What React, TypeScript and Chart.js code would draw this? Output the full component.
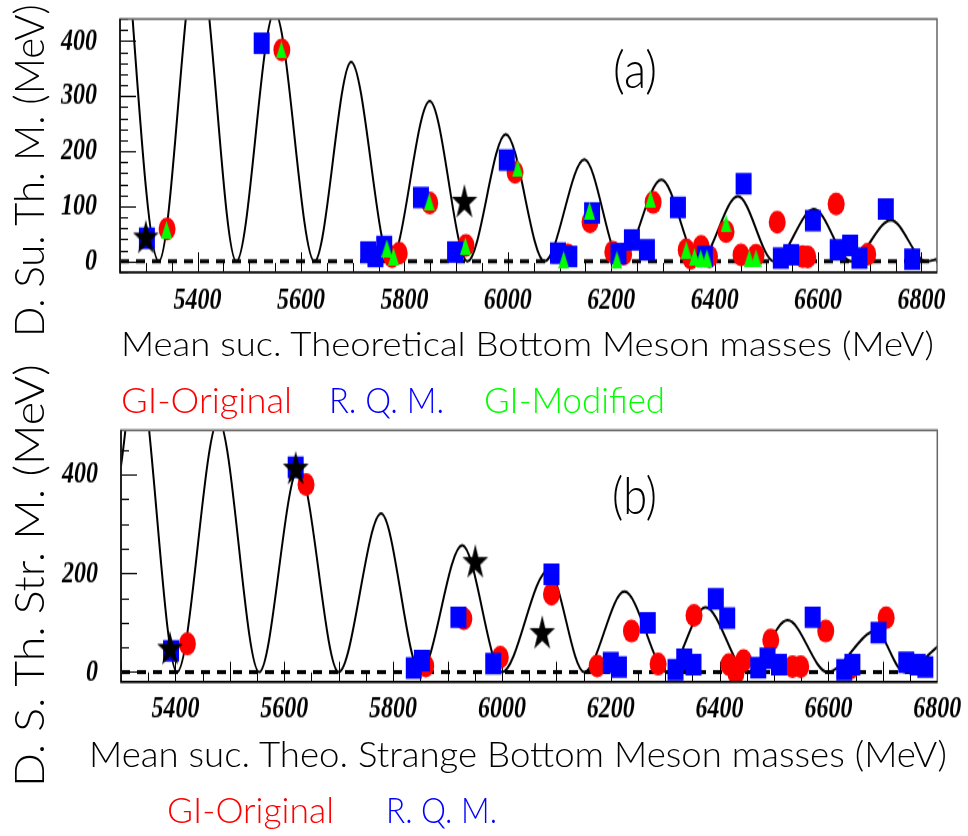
import React, { useEffect, useRef } from 'react';
import { Chart, registerables } from 'chart.js';

Chart.register(...registerables);

// ---------------- data ----------------
const X_TICKS = [5400, 5600, 5800, 6000, 6200, 6400, 6600, 6800];
const Y_TICKS_A = [0, 100, 200, 300, 400];
const Y_TICKS_B = [0, 200, 400];

// Panel (a): bottom mesons
const CURVE_A_X = [5250, 5325, 5400, 5475, 5549, 5626, 5697, 5773, 5849, 5922, 5996, 6071, 6148, 6219, 6297, 6370, 6445, 6515, 6592, 6664, 6741, 6809, 6830];
const CURVE_A_Y = [730, 0, 566, 0, 453, 0, 362, 0, 291, 0, 231, 0, 185, 0, 148, 0, 118, 0, 95, 0, 75, 0, 4];

const RED_A_X = [5341, 5563, 5776, 5790, 5849, 5919, 6014, 6116, 6159, 6203, 6224, 6281, 6345, 6354, 6374, 6390, 6422, 6451, 6480, 6521, 6570, 6580, 6635, 6696];
const RED_A_Y = [59, 384, 9, 15, 106, 29, 162, 12, 72, 17, 13, 107, 21, 6, 27, 9, 54, 12, 11, 71, 9, 8, 104, 13];

const BLUE_A_X = [5302, 5524, 5730, 5744, 5761, 5832, 5898, 5998, 6097, 6119, 6163, 6214, 6240, 6269, 6329, 6381, 6456, 6528, 6548, 6590, 6638, 6662, 6680, 6731, 6782];
const BLUE_A_Y = [42, 396, 17, 9, 27, 116, 17, 184, 15, 9, 88, 14, 39, 21, 98, 9, 141, 6, 12, 74, 21, 29, 6, 95, 4];

const GREEN_A_X = [5340, 5562, 5766, 5779, 5848, 5918, 6019, 6108, 6158, 6211, 6276, 6345, 6361, 6373, 6385, 6422, 6467, 6480];
const GREEN_A_Y = [58, 384, 24, 9, 108, 28, 169, 3, 92, 3, 113, 21, 8, 6, 6, 69, 6, 6];

const STAR_A_X = [5300, 5916];
const STAR_A_Y = [45, 110];

// Panel (b): strange bottom mesons
const CURVE_B_X = [5300, 5329, 5403, 5479, 5554, 5626, 5700, 5778, 5850, 5927, 6000, 6085, 6151, 6225, 6304, 6374, 6451, 6525, 6598, 6687, 6739, 6800];
const CURVE_B_Y = [418, 633, 0, 510, 0, 412, 0, 321, 0, 257, 0, 206, 0, 163, 0, 131, 0, 105, 0, 83, 0, 51];

const RED_B_X = [5422, 5640, 5860, 5930, 5997, 6091, 6175, 6238, 6287, 6353, 6417, 6430, 6444, 6494, 6534, 6549, 6595, 6641, 6706];
const RED_B_Y = [57, 380, 12, 108, 30, 158, 12, 83, 16, 115, 15, -2, 23, 65, 11, 11, 83, 8, 110];

const BLUE_B_X = [5392, 5621, 5838, 5853, 5920, 5984, 6091, 6200, 6215, 6268, 6319, 6335, 6352, 6393, 6414, 6471, 6488, 6509, 6571, 6629, 6644, 6692, 6743, 6764, 6778];
const BLUE_B_Y = [43, 415, 8, 23, 111, 17, 198, 19, 10, 100, 5, 26, 15, 148, 109, 9, 28, 15, 111, 5, 15, 80, 20, 15, 10];

const STAR_B_X = [5390, 5621, 5951, 6074];
const STAR_B_Y = [49, 414, 225, 81];

// ---------------- styling ----------------
const S = 1.35; // vertical stretch of the original figure
const RED = '#ff0000';
const BLUE = '#0000ff';
const GREEN = '#00ff00';

type Pt = { x: number; y: number };
const zip = (xs: number[], ys: number[]): Pt[] => xs.map((x, i) => ({ x, y: ys[i] }));

interface PanelSpec {
  xMin: number; xMax: number; yMin: number; yMax: number;
  yTicks: number[];
  curve: Pt[]; red: Pt[]; blue: Pt[]; green: Pt[] | null; stars: Pt[];
  height: number; padTop: number; padRight: number;
  yAxisWidth: number; xAxisHeight: number; yLabelPad: number; xLabelPad: number;
  xMajor: number; xMinor: number; yMajor: number; yMinor: number;
}

const PANEL_A: PanelSpec = {
  xMin: 5250, xMax: 6830, yMin: -20, yMax: 440, yTicks: Y_TICKS_A,
  curve: zip(CURVE_A_X, CURVE_A_Y), red: zip(RED_A_X, RED_A_Y), blue: zip(BLUE_A_X, BLUE_A_Y),
  green: zip(GREEN_A_X, GREEN_A_Y), stars: zip(STAR_A_X, STAR_A_Y),
  height: 307, padTop: 19 / S, padRight: 31,
  yAxisWidth: 120, xAxisHeight: 307 - 272.7 / S, yLabelPad: 23, xLabelPad: 6,
  xMajor: 200, xMinor: 50, yMajor: 100, yMinor: 20,
};

const PANEL_B: PanelSpec = {
  xMin: 5300, xMax: 6800, yMin: -20, yMax: 490, yTicks: Y_TICKS_B,
  curve: zip(CURVE_B_X, CURVE_B_Y), red: zip(RED_B_X, RED_B_Y), blue: zip(BLUE_B_X, BLUE_B_Y),
  green: null, stars: zip(STAR_B_X, STAR_B_Y),
  height: 312, padTop: (428 - 415) / S, padRight: 30.7,
  yAxisWidth: 121, xAxisHeight: 312 - (682 - 415) / S, yLabelPad: 23, xLabelPad: 6,
  xMajor: 100, xMinor: 50, yMajor: 200, yMinor: 50,
};

function makeTriangle(): HTMLCanvasElement {
  const c = document.createElement('canvas');
  c.width = 11; c.height = 13;
  const g = c.getContext('2d')!;
  g.fillStyle = GREEN;
  g.beginPath(); g.moveTo(5.5, 0); g.lineTo(11, 13); g.lineTo(0, 13); g.closePath(); g.fill();
  return c;
}

function makeStar(): HTMLCanvasElement {
  const c = document.createElement('canvas');
  c.width = 28; c.height = 26;
  const g = c.getContext('2d')!;
  g.fillStyle = '#000';
  const R = 13.6, r = R * 0.382, cx = 14, cy = 0.6 + R;
  g.beginPath();
  for (let i = 0; i < 10; i++) {
    const a = -Math.PI / 2 + (i * Math.PI) / 5;
    const rr = i % 2 ? r : R;
    g.lineTo(cx + rr * Math.cos(a), cy + rr * Math.sin(a));
  }
  g.closePath(); g.fill();
  return c;
}

function axisPlugin(p: PanelSpec) {
  return {
    id: 'rootAxes',
    beforeDatasetsDraw(chart: any) {
      const { ctx, chartArea: a } = chart;
      const xs = chart.scales.x, ys = chart.scales.y;
      ctx.save();
      ctx.strokeStyle = '#000';
      ctx.lineWidth = 1;
      ctx.beginPath();
      for (let i = Math.ceil(p.xMin / p.xMinor); i <= Math.floor(p.xMax / p.xMinor); i++) {
        const v = i * p.xMinor;
        const px = Math.round(xs.getPixelForValue(v)) + 0.5;
        const len = v % p.xMajor === 0 ? 15 : 7;
        ctx.moveTo(px, a.bottom); ctx.lineTo(px, a.bottom - len);
      }
      for (let i = Math.ceil(p.yMin / p.yMinor); i <= Math.floor(p.yMax / p.yMinor); i++) {
        const v = i * p.yMinor;
        const py = Math.round(ys.getPixelForValue(v)) + 0.5;
        const len = v % p.yMajor === 0 ? 16 : 8;
        ctx.moveTo(a.left, py); ctx.lineTo(a.left + len, py);
      }
      ctx.stroke();
      ctx.restore();
    },
    afterDatasetsDraw(chart: any) {
      const { ctx, chartArea: a } = chart;
      ctx.save();
      ctx.strokeStyle = '#666';
      ctx.lineWidth = 1.5;
      ctx.strokeRect(a.left, a.top, a.right - a.left, a.bottom - a.top);
      ctx.strokeStyle = '#000';
      ctx.beginPath();
      ctx.moveTo(a.left, a.top); ctx.lineTo(a.left, a.bottom); ctx.lineTo(a.right, a.bottom);
      ctx.stroke();
      ctx.restore();
    },
  };
}

const TICK_FONT = { family: '"Liberation Serif", "Times New Roman", serif', size: 24, style: 'italic' as const, weight: 'bold' as const };

function noPad(s: any) {
  s.paddingTop = 0; s.paddingBottom = 0; s.paddingLeft = 0; s.paddingRight = 0;
}

function buildConfig(p: PanelSpec): any {
  const tri = makeTriangle();
  const star = makeStar();
  const datasets: any[] = [
    { label: 'Experiment', data: p.stars, showLine: false, pointStyle: star, pointRadius: 8, pointBorderWidth: 0, order: 0 },
  ];
  if (p.green) {
    datasets.push({ label: 'GI-Modified', data: p.green, showLine: false, pointStyle: tri, pointRadius: 6, pointBorderWidth: 0, order: 1 });
  }
  datasets.push(
    { label: 'R. Q. M.', data: p.blue, showLine: false, pointStyle: 'rect', pointRadius: 11.3, pointBackgroundColor: BLUE, pointBorderWidth: 0, order: 2 },
    { label: 'GI-Original', data: p.red, showLine: false, pointStyle: 'circle', pointRadius: 8.5, pointBackgroundColor: RED, pointBorderWidth: 0, order: 3 },
    { label: 'zero', data: [{ x: p.xMin, y: 0 }, { x: p.xMax, y: 0 }], borderColor: '#000', borderWidth: 3, borderDash: [9, 7], pointRadius: 0, order: 4 },
    { label: 'fit', data: p.curve, borderColor: '#000', borderWidth: 2, pointRadius: 0, cubicInterpolationMode: 'monotone', order: 5 },
  );
  return {
    type: 'line',
    data: { datasets },
    options: {
      animation: false,
      responsive: false,
      devicePixelRatio: 1,
      events: [],
      layout: { padding: { top: p.padTop, right: p.padRight, left: 0, bottom: 0 } },
      plugins: { legend: { display: false }, tooltip: { enabled: false }, title: { display: false } },
      scales: {
        x: {
          type: 'linear', position: 'bottom', min: p.xMin, max: p.xMax,
          grid: { display: false, drawTicks: false }, border: { display: false },
          afterBuildTicks: (s: any) => { s.ticks = X_TICKS.map((v) => ({ value: v })); },
          afterFit: (s: any) => { s.height = p.xAxisHeight; noPad(s); },
          ticks: { autoSkip: false, maxRotation: 0, minRotation: 0, padding: p.xLabelPad, color: '#000', font: TICK_FONT, callback: (v: any) => String(v) },
        },
        y: {
          type: 'linear', position: 'left', min: p.yMin, max: p.yMax,
          grid: { display: false, drawTicks: false }, border: { display: false },
          afterBuildTicks: (s: any) => { s.ticks = p.yTicks.map((v) => ({ value: v })); },
          afterFit: (s: any) => { s.width = p.yAxisWidth; noPad(s); },
          ticks: { autoSkip: false, padding: p.yLabelPad, color: '#000', font: TICK_FONT, callback: (v: any) => String(v) },
        },
      },
    },
    plugins: [axisPlugin(p)],
  };
}

function PanelCanvas({ spec, top }: { spec: PanelSpec; top: number }) {
  const ref = useRef<HTMLCanvasElement>(null);
  useEffect(() => {
    const chart = new Chart(ref.current as HTMLCanvasElement, buildConfig(spec));
    return () => chart.destroy();
  }, [spec]);
  return (
    <canvas
      ref={ref}
      width={968}
      height={spec.height}
      style={{ position: 'absolute', left: 0, top, width: 968, height: spec.height * S }}
    />
  );
}

// ---------------- text ----------------
const LABEL_FAMILY = 'Lato, "DejaVu Sans", sans-serif';
const ASC = 0.887; // baseline offset for line-height 1 (Lato)
const CAPH = 0.717;
let measureCtx: CanvasRenderingContext2D | null = null;
function textWidth(text: string, font: string): number {
  if (!measureCtx) measureCtx = document.createElement('canvas').getContext('2d');
  measureCtx!.font = font;
  return measureCtx!.measureText(text).width;
}

function Label(props: { text: string; x: number; y: number; w: number; cap: number; color?: string; vertical?: boolean; weight?: number }) {
  const { text, x, y, w, cap, color = '#000', vertical = false, weight = 300 } = props;
  const fs = cap / CAPH;
  const nat = textWidth(text, `${weight} ${fs}px ${LABEL_FAMILY}`);
  const sx = w / nat;
  const common: React.CSSProperties = {
    position: 'absolute', fontFamily: LABEL_FAMILY, fontSize: fs, fontWeight: weight,
    lineHeight: `${fs}px`, color, whiteSpace: 'nowrap', transformOrigin: '0 0',
  };
  if (!vertical) {
    return <div style={{ ...common, left: x, top: y - ASC * fs, transform: `scaleX(${sx})` }}>{text}</div>;
  }
  return <div style={{ ...common, left: x - ASC * fs, top: y, transform: `rotate(-90deg) scaleX(${sx})` }}>{text}</div>;
}

export default function App() {
  return (
    <div style={{ position: 'absolute', left: 0, top: 0, width: 968, height: 836, overflow: 'hidden', background: '#fff' }}>
      <PanelCanvas spec={PANEL_A} top={0} />
      <PanelCanvas spec={PANEL_B} top={415} />

      <Label text="D. Su. Th. M. (MeV)" x={45} y={337} w={334} cap={30} vertical />
      <Label text="D. S. Th. Str. M. (MeV)" x={45} y={787} w={424} cap={30} vertical />

      <Label text="(a)" x={613} y={89} w={44} cap={36} />
      <Label text="(b)" x={612} y={515} w={45} cap={36} />

      <Label text="Mean suc. Theoretical Bottom Meson masses (MeV)" x={121} y={357} w={814} cap={24} />
      <Label text="GI-Original" x={121} y={413} w={171} cap={26} color={RED} />
      <Label text="R. Q. M." x={329} y={413} w={115} cap={26} color={BLUE} />
      <Label text="GI-Modified" x={484} y={413} w={181} cap={26} color={GREEN} />

      <Label text="Mean suc. Theo. Strange Bottom Meson masses (MeV)" x={89} y={767} w={859} cap={26} />
      <Label text="GI-Original" x={167} y={823} w={167} cap={26} color={RED} />
      <Label text="R. Q. M." x={386} y={823} w={111} cap={26} color={BLUE} />
    </div>
  );
}
